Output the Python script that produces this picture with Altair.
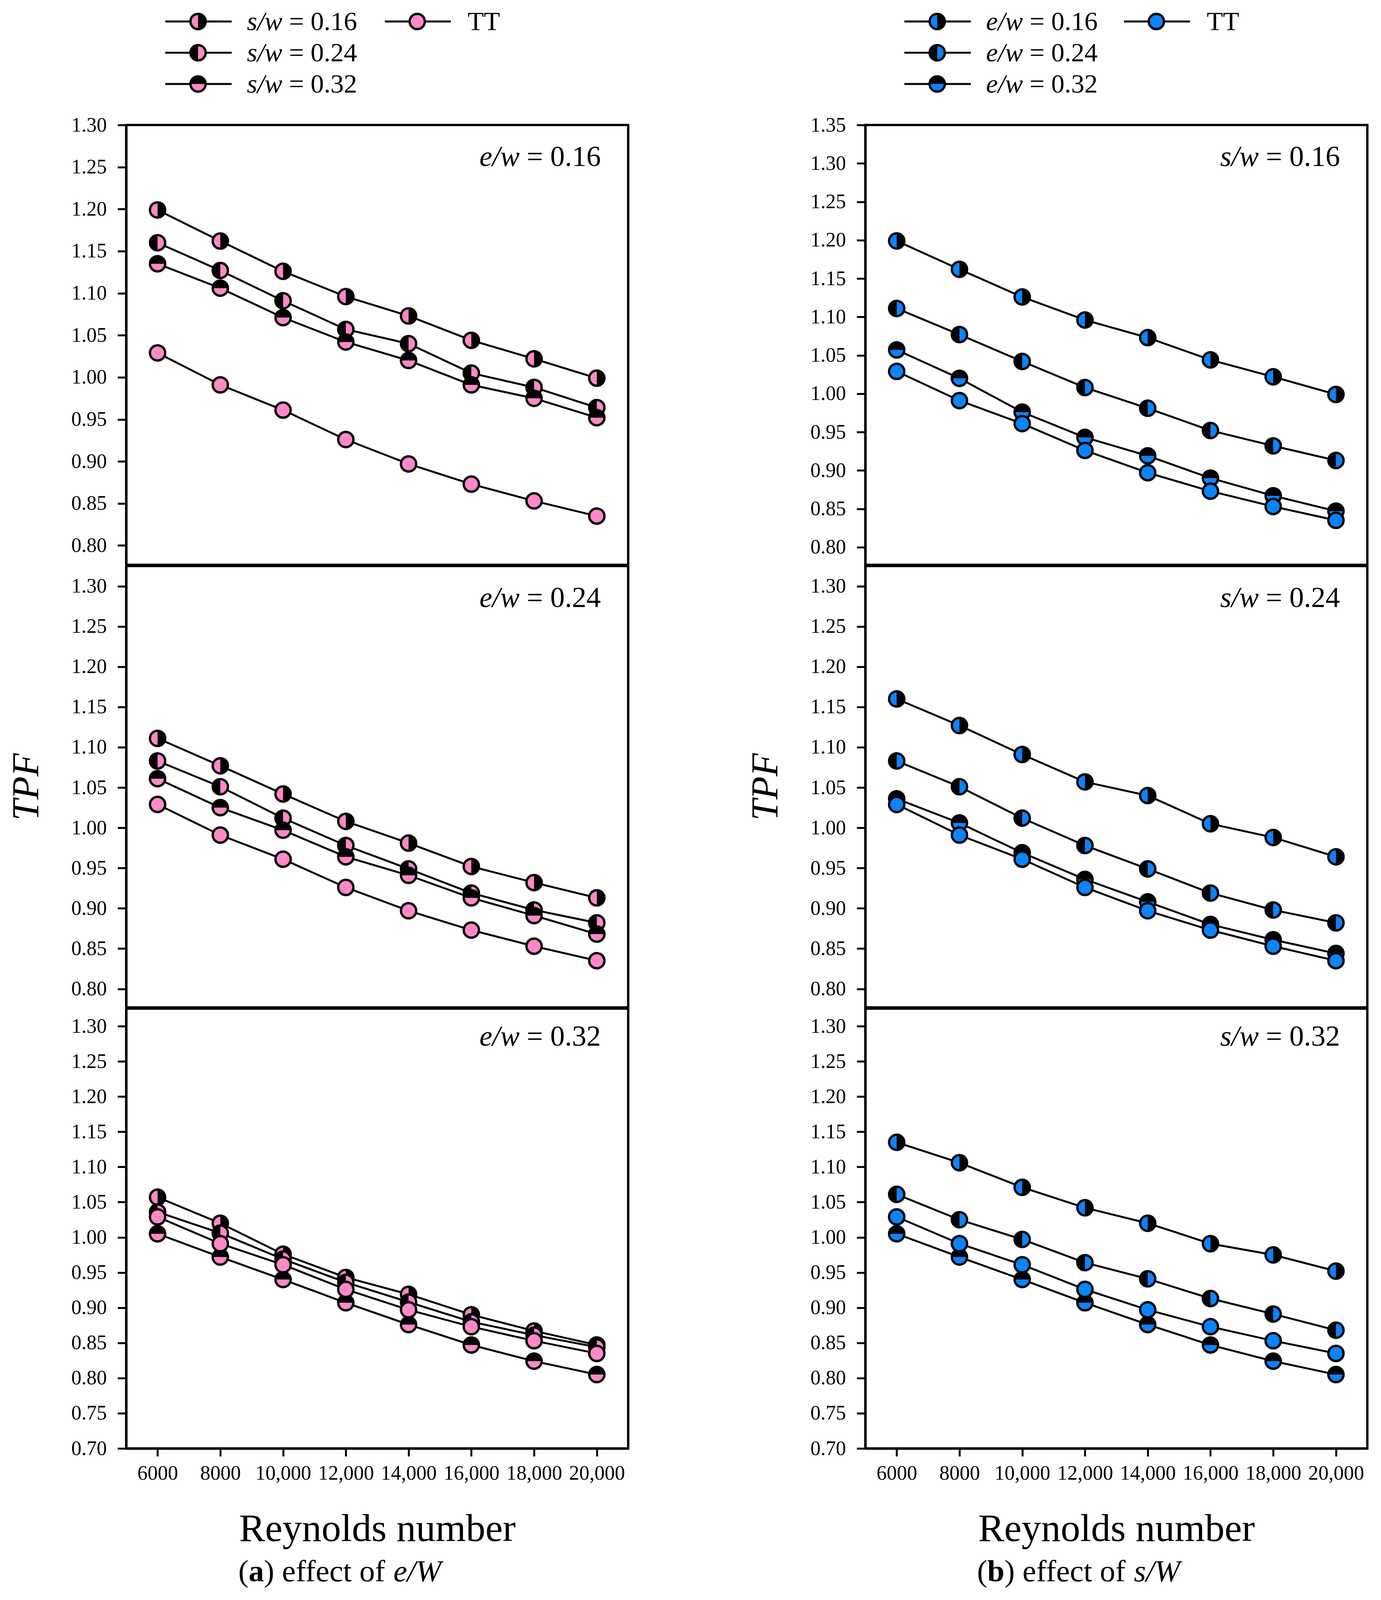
import altair as alt
import pandas as pd

# Reynolds numbers and TPF values
re_vals = [6000, 8000, 10000, 12000, 14000, 16000, 18000, 20000]
tt = [1.029, 0.991, 0.961, 0.926, 0.897, 0.873, 0.853, 0.835]

e16_s16 = [1.199, 1.162, 1.126, 1.096, 1.073, 1.044, 1.022, 0.999]
e16_s24 = [1.160, 1.127, 1.091, 1.057, 1.040, 1.005, 0.988, 0.964]
e16_s32 = [1.135, 1.106, 1.071, 1.042, 1.020, 0.991, 0.975, 0.952]
e24_s16 = [1.111, 1.077, 1.042, 1.008, 0.981, 0.952, 0.932, 0.913]
e24_s24 = [1.083, 1.051, 1.012, 0.978, 0.949, 0.919, 0.898, 0.882]
e24_s32 = [1.061, 1.025, 0.997, 0.964, 0.941, 0.913, 0.891, 0.868]
e32_s16 = [1.057, 1.020, 0.976, 0.943, 0.919, 0.890, 0.867, 0.847]
e32_s24 = [1.036, 1.006, 0.969, 0.936, 0.908, 0.880, 0.861, 0.844]
e32_s32 = [1.005, 0.972, 0.940, 0.907, 0.876, 0.847, 0.824, 0.805]

ratios = ['0.16', '0.24', '0.32']
ticks_a_top = [0.80, 0.85, 0.90, 0.95, 1.00, 1.05, 1.10, 1.15, 1.20, 1.25, 1.30]
ticks_b_top = ticks_a_top + [1.35]
ticks_mid = ticks_a_top
ticks_bot = [0.70, 0.75] + ticks_a_top

PINK = '#FF88C8'
BLUE = '#0A84FF'
FONT = 'Liberation Serif'
W = 1285
H = [1126, 1130, 1126]
TOP = 317          # page y of the top frame
MSIZE = 1521
LEG_FS = 68

# black half of each marker (1: right half, 2: left half, 3: top half)
HALF = {1: 'M0,-1A1,1 0 0,1 0,1Z', 2: 'M0,-1A1,1 0 0,0 0,1Z', 3: 'M-1,0A1,1 0 0,1 1,0Z'}

# keyed by (e/w, s/w)
table = {
    ('0.16', '0.16'): e16_s16, ('0.16', '0.24'): e16_s24, ('0.16', '0.32'): e16_s32,
    ('0.24', '0.16'): e24_s16, ('0.24', '0.24'): e24_s24, ('0.24', '0.32'): e24_s32,
    ('0.32', '0.16'): e32_s16, ('0.32', '0.24'): e32_s24, ('0.32', '0.32'): e32_s32,
}

one = pd.DataFrame({'k': [0]})


def panel_df(fixed, fixed_is_e):
    rows = []
    for i, r in enumerate(ratios):
        vals = table[(fixed, r)] if fixed_is_e else table[(r, fixed)]
        for x, v in zip(re_vals, vals):
            rows.append({'re': x, 'tpf': v, 'series': r, 'style': i + 1})
    for x, v in zip(re_vals, tt):
        rows.append({'re': x, 'tpf': v, 'series': 'TT', 'style': 0})
    return pd.DataFrame(rows)


def txt(s, x, y, size, style='normal', weight='normal', align='left'):
    return alt.Chart(one).mark_text(
        text=s, font=FONT, fontSize=size, fontStyle=style, fontWeight=weight,
        align=align, baseline='alphabetic', color='black'
    ).encode(x=alt.value(x), y=alt.value(y))


def marker(x, y, color, style):
    out = [alt.Chart(one).mark_point(shape='circle', filled=True, fill=color, stroke='black',
                                     strokeWidth=6, size=MSIZE, opacity=1)
           .encode(x=alt.value(x), y=alt.value(y))]
    if style:
        out.append(alt.Chart(one).mark_point(shape=HALF[style], filled=True, fill='black',
                                             strokeWidth=0, size=MSIZE, opacity=1)
                   .encode(x=alt.value(x), y=alt.value(y)))
    return out


def legend(color, var, ital_em):
    layers = []
    rows_y = [52 - TOP, 132 - TOP, 212 - TOP]
    ital_w = ital_em * LEG_FS
    for i, r in enumerate(ratios):
        y0 = rows_y[i]
        layers.append(alt.Chart(one).mark_rule(color='black', strokeWidth=5)
                      .encode(x=alt.value(100), x2=alt.value(270), y=alt.value(y0)))
        layers += marker(184, y0, color, i + 1)
        layers.append(txt(var, 309, y0 + 22, LEG_FS, style='italic'))
        layers.append(txt('= ' + r, 309 + ital_w + 0.25 * LEG_FS, y0 + 22, LEG_FS))
    y0 = rows_y[0]
    layers.append(alt.Chart(one).mark_rule(color='black', strokeWidth=5)
                  .encode(x=alt.value(662), x2=alt.value(831), y=alt.value(y0)))
    layers += marker(745, y0, color, 0)
    layers.append(txt('TT', 874, y0 + 22, LEG_FS))
    return layers


def panel(df, color, ydom, yticks, pos, lab_var, lab_val, extra):
    h = H[pos]
    if pos == 2:
        xaxis = alt.Axis(values=re_vals, labelExpr="datum.value >= 10000 ? format(datum.value, ',') : format(datum.value, 'd')",
                         tickSize=20, tickWidth=5, domainWidth=6, labelFontSize=52, labelFont=FONT,
                         labelPadding=18, grid=False, labelFlush=False, labelOverlap=False,
                         title='Reynolds number', titleFont=FONT, titleFontSize=100,
                         titleFontWeight='normal', titleX=W / 2, titleY=236,
                         titleBaseline='alphabetic', titleAlign='center')
    else:
        xaxis = None
    yargs = dict(values=yticks, format='.2f', tickSize=22, tickWidth=5, domainWidth=6,
                 labelFontSize=52, labelFont=FONT, labelPadding=28, grid=False,
                 labelFlush=False, labelOverlap=False)
    if pos == 1:
        yargs.update(title='TPF', titleFont=FONT, titleFontSize=97, titleFontStyle='italic',
                     titleFontWeight='normal', titleX=-226, titleY=h / 2, titleAngle=270,
                     titleAlign='center', titleBaseline='alphabetic')
    else:
        yargs.update(title='')
    x = alt.X('re:Q', scale=alt.Scale(domain=[5000, 21000], nice=False, zero=False), axis=xaxis)
    y = alt.Y('tpf:Q', scale=alt.Scale(domain=ydom, nice=False, zero=False), axis=alt.Axis(**yargs))

    base = alt.Chart(df)
    layers = [base.mark_line(color='black', strokeWidth=5).encode(x, y, detail='series:N')]
    for k in [1, 2, 3, 0]:
        sub = base.transform_filter(alt.datum.style == k)
        layers.append(sub.mark_point(shape='circle', filled=True, fill=color, stroke='black',
                                     strokeWidth=6, size=MSIZE, opacity=1).encode(x, y))
        if k:
            layers.append(sub.mark_point(shape=HALF[k], filled=True, fill='black',
                                         strokeWidth=0, size=MSIZE, opacity=1).encode(x, y))
    ly = 105 if pos < 2 else 95
    layers.append(txt(lab_var, W - 278, ly, 74, style='italic', align='right'))
    layers.append(txt('= ' + lab_val, W - 70, ly, 74, align='right'))
    layers += extra
    return alt.layer(*layers).properties(width=W, height=h)


def anchor(x, y):
    return [alt.Chart(one).mark_rule(opacity=0, strokeWidth=1)
            .encode(x=alt.value(x), x2=alt.value(x + 1), y=alt.value(y))]


cap_y = H[2] + 340
cap_a = [txt('(', 287, cap_y, 79), txt('a', 313.3, cap_y, 79, weight='bold'),
         txt(') effect of', 352.8, cap_y, 79), txt('e/W', 684, cap_y, 79, style='italic')]
cap_b = [txt('(', 286, cap_y, 79), txt('b', 312.3, cap_y, 79, weight='bold'),
         txt(') effect of', 356.2, cap_y, 79), txt('s/W', 687.4, cap_y, 79, style='italic')]

panels = []
for i, r in enumerate(ratios):
    extra_a, extra_b = [], []
    if i == 0:
        extra_a = legend(PINK, 's/w', 1.334) + anchor(-312, 8 - TOP)
        extra_b = legend(BLUE, 'e/w', 1.389) + anchor(-312, 8 - TOP)
    if i == 2:
        extra_a, extra_b = cap_a, cap_b
    ydom_a = [0.777, 1.30] if i == 0 else ([0.777, 1.325] if i == 1 else [0.70, 1.325])
    ydom_b = [0.777, 1.35] if i == 0 else ydom_a
    yt_a = ticks_a_top if i == 0 else (ticks_mid if i == 1 else ticks_bot)
    yt_b = ticks_b_top if i == 0 else yt_a
    # (a): e/w fixed per panel, series over s/w; (b): s/w fixed, series over e/w
    panels.append(panel(panel_df(r, True), PINK, ydom_a, yt_a, i, 'e/w', r, extra_a))
    panels.append(panel(panel_df(r, False), BLUE, ydom_b, yt_b, i, 's/w', r, extra_b))

chart = alt.concat(
    *panels, columns=2, spacing={'row': -6, 'column': 289}
).properties(
    padding=0, background='white'
).configure_view(
    stroke='black', strokeWidth=6
).configure_axis(
    labelColor='black', tickColor='black', domainColor='black', titleColor='black'
)

chart.save("out.html", embed_options={"renderer": "svg", "actions": False})
